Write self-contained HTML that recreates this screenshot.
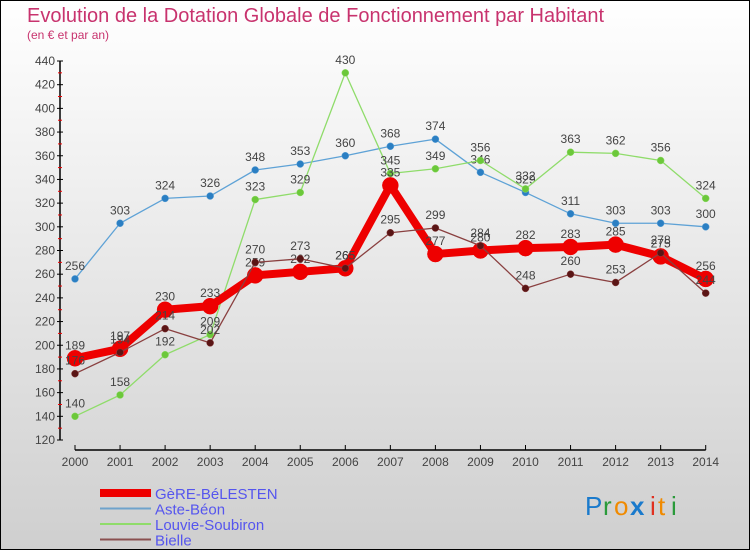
<!DOCTYPE html>
<html><head><meta charset="utf-8"><style>
html,body{margin:0;padding:0}
body{width:750px;height:550px;overflow:hidden;font-family:"Liberation Sans",sans-serif}
</style></head><body>
<svg id="chart" width="750" height="550" xmlns="http://www.w3.org/2000/svg">
<defs><linearGradient id="bg" x1="0" y1="0" x2="0" y2="1"><stop offset="0" stop-color="#ffffff"/><stop offset="1" stop-color="#cfcfcf"/></linearGradient></defs>
<rect x="0.5" y="0.5" width="749" height="549" fill="url(#bg)" stroke="#000"/>
<text x="27" y="22" font-size="20" fill="#c8336e">Evolution de la Dotation Globale de Fonctionnement par Habitant</text>
<text x="27" y="39" font-size="12" fill="#c8336e">(en € et par an)</text>
<g id="axes"></g>
<g id="series"></g>
<g id="legend"></g>
<g font-size="26" font-family="Liberation Sans, sans-serif">
<text x="585" y="515" fill="#1a7acc">P</text><text x="603" y="515" fill="#2a9a3a">r</text><text x="614" y="515" fill="#f08a00">o</text><text x="630" y="515" fill="#1a7acc" font-weight="bold">x</text><text x="650" y="515" fill="#e03020">i</text><text x="658" y="515" fill="#f08a00">t</text><text x="671" y="515" fill="#2a9a3a">i</text>
</g>
</svg>
<script>
const years=["2000","2001","2002","2003","2004","2005","2006","2007","2008","2009","2010","2011","2012","2013","2014"];
const gere=[189,197,230,233,259,262,265,335,277,280,282,283,285,275,256];
const aste=[256,303,324,326,348,353,360,368,374,346,329,311,303,303,300];
const louvie=[140,158,192,209,323,329,430,345,349,356,332,363,362,356,324];
const bielle=[176,194,214,202,270,273,265,295,299,284,248,260,253,278,244];
const yTicks=[120,140,160,180,200,220,240,260,280,300,320,340,360,380,400,420,440];
const NS="http://www.w3.org/2000/svg";
const X=i=>75+i*45.05;
const Y=v=>440-(v-120)*379/320;
function el(t,a,p){const e=document.createElementNS(NS,t);for(const k in a)e.setAttribute(k,a[k]);p.appendChild(e);return e;}
const ax=document.getElementById('axes');
const yl=el('line',{x1:60,y1:Y(440),x2:60,y2:440,stroke:'#000','stroke-width':1.5},ax);


yTicks.forEach(v=>{
  el('line',{x1:57,y1:Y(v),x2:63,y2:Y(v),stroke:'#000'},ax);
  if(v<440)el('line',{x1:58,y1:Y(v+10),x2:62,y2:Y(v+10),stroke:'#e00'},ax);
  const t=el('text',{x:55,y:Y(v)+4,'font-size':12,'text-anchor':'end',fill:'#444'},ax);t.textContent=v;
  
  
});
const xl=el('line',{x1:X(0),y1:450,x2:X(14),y2:450,stroke:'#000','stroke-width':1.5},ax);


years.forEach((y,i)=>{
  el('line',{x1:X(i),y1:445,x2:X(i),y2:450,stroke:'#000'},ax);
  const t=el('text',{x:X(i),y:466,'font-size':12,'text-anchor':'middle',fill:'#444'},ax);t.textContent=y;
  
  
});
const sg=document.getElementById('series');
function series(data,color,dot,w,r,name){
  const g=el('g',{},sg);
  
  
  el('polyline',{points:data.map((v,i)=>X(i)+','+Y(v)).join(' '),fill:'none',stroke:color,'stroke-width':w,'stroke-linejoin':'round'},g);
  data.forEach((v,i)=>{
    const c=el('circle',{cx:X(i),cy:Y(v),r:r,fill:dot,stroke:color,'stroke-width':0.5},g);
    
    
    const t=el('text',{x:X(i),y:Y(v)-9,'font-size':12,'text-anchor':'middle',fill:'#444'},g);t.textContent=v;
  });
}
series(aste,'#5ea2d6','#2b7fc3',1.3,3.5,'series-aste-beon');
series(louvie,'#8fdc6a','#6cc83a',1.3,3.5,'series-louvie-soubiron');
series(gere,'#ee0000','#ee0000',8,8,'series-gere-belesten');
series(bielle,'#8a4040','#5a1515',1.3,3.5,'series-bielle');
const lg=document.getElementById('legend');
const items=[["GèRE-BéLESTEN","#ee0000",8],["Aste-Béon","#6fa3cc",2],["Louvie-Soubiron","#8fdc6a",2],["Bielle","#8a5050",2]];
items.forEach((it,k)=>{
  const y=493+k*15.5;
  const g=el('g',{},lg);
  
  
  el('line',{x1:100,y1:y,x2:151,y2:y,stroke:it[1],'stroke-width':it[2]},g);
  const t=el('text',{x:155,y:y+6,'font-size':15,fill:'#5555ee'},g);t.textContent=it[0];
});
</script>
</body></html>
